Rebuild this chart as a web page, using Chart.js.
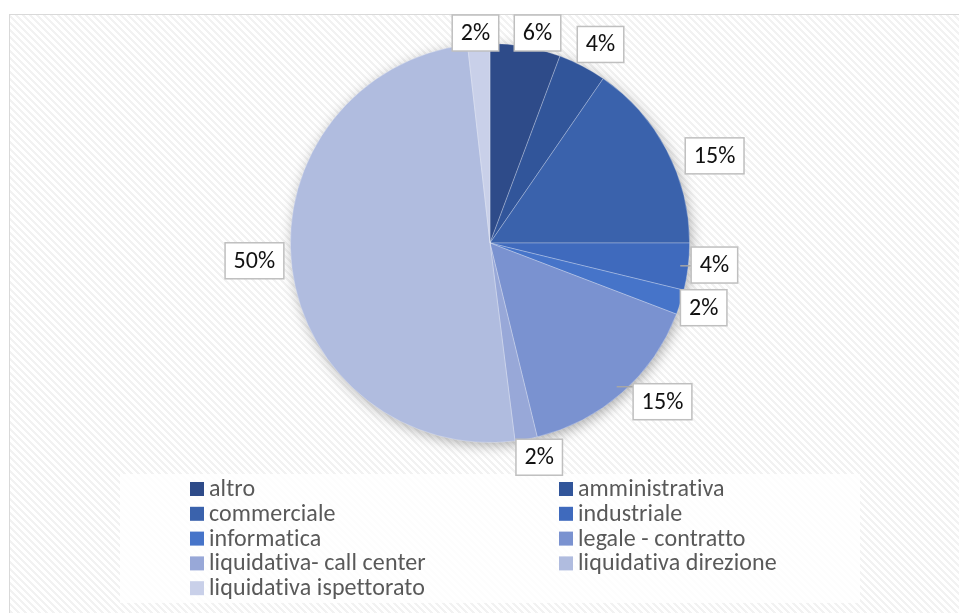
<!DOCTYPE html>
<html><head><meta charset="utf-8">
<script src="https://cdn.jsdelivr.net/npm/chart.js@4.4.0/dist/chart.umd.min.js"></script>
<style>html,body{margin:0;padding:0;background:#fff;overflow:hidden}
#wrap{position:relative;width:959px;height:613px}</style></head>
<body><div id="wrap"><canvas id="c" width="959" height="613"></canvas></div>
<script>
const categories = ['altro','amministrativa','commerciale','industriale','informatica','legale - contratto','liquidativa- call center','liquidativa direzione','liquidativa ispettorato'];
const shares = [5.7, 3.9, 15.4, 3.8, 2.0, 15.4, 1.8, 50.2, 1.8];
const sliceColors = ['#2E4B89','#31559A','#3A62AC','#3F6ABD','#4674C9','#7A92D0','#98A8D8','#B0BCDF','#C9D0E9'];
const labelNudge = [[8,1],[7,0],[15,23],[-1,-5],[-4,-3],[22,-12],[9,-4],[-4,-10],[-2,1]];
const leaderLine = [false,false,false,true,false,true,false,false,false];

const FONT = 'Carlito, Calibri, Lato, "Liberation Sans", sans-serif';
const box = {x:9.5, y:14.5};

function makePattern(ctx){
  const s = 7, off = document.createElement('canvas');
  off.width = s; off.height = s;
  const o = off.getContext('2d');
  const img = o.createImageData(s, s);
  for (let y=0;y<s;y++) for (let x=0;x<s;x++){
    const k = ((x - y) % s + s) % s;
    const v = k < 3 ? 242 : 255;
    const i = (y*s+x)*4;
    img.data[i]=v; img.data[i+1]=v; img.data[i+2]=v; img.data[i+3]=255;
  }
  o.putImageData(img,0,0);
  return ctx.createPattern(off,'repeat');
}

const bgPlugin = {
  id:'bg',
  beforeDraw(chart){
    const ctx = chart.ctx;
    ctx.save();
    ctx.fillStyle = '#fff';
    ctx.fillRect(0,0,chart.width,chart.height);
    ctx.fillStyle = makePattern(ctx);
    ctx.fillRect(box.x, box.y, chart.width - box.x + 5, chart.height - box.y + 5);
    ctx.strokeStyle = '#D9D9D9'; ctx.lineWidth = 1;
    ctx.strokeRect(box.x, box.y, chart.width - box.x + 5, chart.height - box.y + 5);
    ctx.fillStyle = 'rgba(255,255,255,0.85)';
    ctx.fillRect(120, 474, 740, 129);
    ctx.restore();
  },
  beforeDatasetsDraw(chart){
    const arc = chart.getDatasetMeta(0).data[0];
    if(!arc) return;
    const ctx = chart.ctx;
    ctx.save();
    ctx.shadowColor = 'rgba(0,0,0,0.35)';
    ctx.shadowBlur = 14; ctx.shadowOffsetX = 2; ctx.shadowOffsetY = 3;
    ctx.fillStyle = '#B0BCDF';
    ctx.beginPath(); ctx.arc(arc.x, arc.y, arc.outerRadius - 1, 0, Math.PI*2); ctx.fill();
    ctx.restore();
  }
};

const labelPlugin = {
  id:'lbl',
  afterDraw(chart){
    const ctx = chart.ctx;
    const meta = chart.getDatasetMeta(0);
    ctx.save();
    try { ctx.letterSpacing = '0.1px'; } catch(e) {}
    ctx.font = '24px ' + FONT;
    ctx.textBaseline = 'middle'; ctx.textAlign = 'center';
    meta.data.forEach((a, i) => {
      const mid = (a.startAngle + a.endAngle)/2;
      const ux = Math.cos(mid), uy = Math.sin(mid);
      const txt = Math.round(shares[i]) + '%';
      const w = ctx.measureText(txt).width + 17, h = 36;
      const ed = Math.min(Math.abs(ux) > 1e-6 ? w/2/Math.abs(ux) : 1e9, Math.abs(uy) > 1e-6 ? h/2/Math.abs(uy) : 1e9);
      const R = a.outerRadius + 4 + ed;
      let cx = a.x + ux*R, cy = a.y + uy*R;
      cy = Math.max(cy, 14 + h/2);
      cx += labelNudge[i][0]; cy += labelNudge[i][1];
      const bx = cx - w/2, by = cy - h/2;
      if (leaderLine[i]){
        const ex = a.x + ux*(a.outerRadius-8), ey = a.y + uy*(a.outerRadius-8);
        const nx = Math.max(bx, Math.min(ex, bx+w)), ny = Math.max(by, Math.min(ey, by+h));
        ctx.strokeStyle = '#A6A6A6'; ctx.lineWidth = 1.5;
        ctx.beginPath(); ctx.moveTo(ex, ey); ctx.lineTo(nx, ny); ctx.stroke();
      }
      ctx.fillStyle = '#fff';
      ctx.fillRect(bx, by, w, h);
      ctx.strokeStyle = '#BFBFBF'; ctx.lineWidth = 1.5;
      ctx.strokeRect(bx, by, w, h);
      ctx.fillStyle = '#111';
      ctx.fillText(txt, cx, cy + 1);
    });
    ctx.textAlign = 'left';
    ctx.font = '24px ' + FONT;
    categories.forEach((c, i) => {
      const col = i % 2, row = Math.floor(i/2);
      const x = col ? 559 : 190, y = 489 + row*24.8;
      ctx.fillStyle = sliceColors[i];
      ctx.fillRect(x, y-7, 14, 14);
      ctx.fillStyle = '#595959';
      ctx.fillText(c, x + 19, y + 1);
    });
    ctx.restore();
  }
};

new Chart(document.getElementById('c'), {
  type:'pie',
  data:{ labels: categories, datasets:[{ data: shares, backgroundColor: sliceColors, borderColor:'rgba(255,255,255,0.35)', borderWidth:0.8 }] },
  options:{
    responsive:false, animation:false, devicePixelRatio:1,
    layout:{ padding:{ left:290, right:269, top:43, bottom:170 } },
    plugins:{ legend:{display:false}, tooltip:{enabled:false} }
  },
  plugins:[bgPlugin, labelPlugin]
});
</script></body></html>
